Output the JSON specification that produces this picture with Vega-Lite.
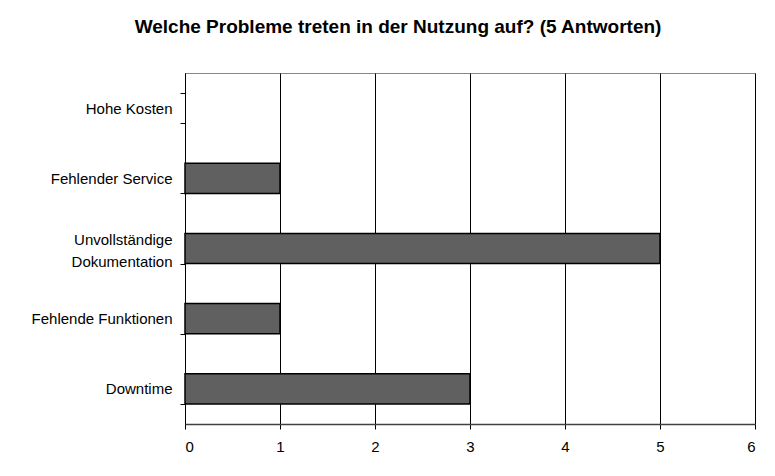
{
  "$schema": "https://vega.github.io/schema/vega-lite/v6.json",
  "width": 570,
  "height": 351,
  "autosize": "none",
  "padding": {"left": 185, "top": 73, "right": 20, "bottom": 52},
  "background": "white",
  "title": {
    "text": "Welche Probleme treten in der Nutzung auf? (5 Antworten)",
    "font": "Liberation Sans",
    "fontSize": 19,
    "fontWeight": "bold",
    "color": "black",
    "anchor": "middle",
    "frame": "group",
    "dx": -72,
    "offset": 29
  },
  "data": {
    "values": [
      {"problem": "Hohe Kosten", "count": 0},
      {"problem": "Fehlender Service", "count": 1},
      {"problem": "Unvollständige Dokumentation", "count": 5},
      {"problem": "Fehlende Funktionen", "count": 1},
      {"problem": "Downtime", "count": 3}
    ]
  },
  "mark": {"type": "bar", "fill": "#606060", "stroke": "black", "strokeWidth": 1.5},
  "encoding": {
    "y": {
      "field": "problem",
      "type": "nominal",
      "sort": null,
      "scale": {"paddingInner": 0.57, "paddingOuter": 0.285},
      "axis": {
        "title": null,
        "tickBand": "extent",
        "tickSize": 5,
        "tickColor": "black",
        "domainColor": "black",
        "labelPadding": 8,
        "labelFont": "Liberation Sans",
        "labelFontSize": 15,
        "labelLineHeight": 22,
        "labelColor": "black",
        "labelLimit": 200,
        "labelOffset": {
          "condition": {"test": "datum.value == 'Unvollständige Dokumentation'", "value": -9},
          "value": 0
        },
        "labelExpr": "datum.label == 'Unvollständige Dokumentation' ? ['Unvollständige', 'Dokumentation'] : datum.label"
      }
    },
    "x": {
      "field": "count",
      "type": "quantitative",
      "scale": {"domain": [0, 6], "nice": false},
      "axis": {
        "title": null,
        "tickCount": 6,
        "grid": true,
        "gridColor": "black",
        "gridOpacity": 1,
        "gridWidth": 1,
        "domainColor": "#404040",
        "domainWidth": 1.5,
        "tickColor": "black",
        "tickSize": 5,
        "labelPadding": 10,
        "labelFont": "Liberation Sans",
        "labelFontSize": 15,
        "labelColor": "black"
      }
    },
    "strokeOpacity": {
      "condition": {"test": "datum.count == 0", "value": 0},
      "value": 1
    }
  },
  "config": {
    "view": {"stroke": "#888888", "strokeWidth": 1}
  }
}
